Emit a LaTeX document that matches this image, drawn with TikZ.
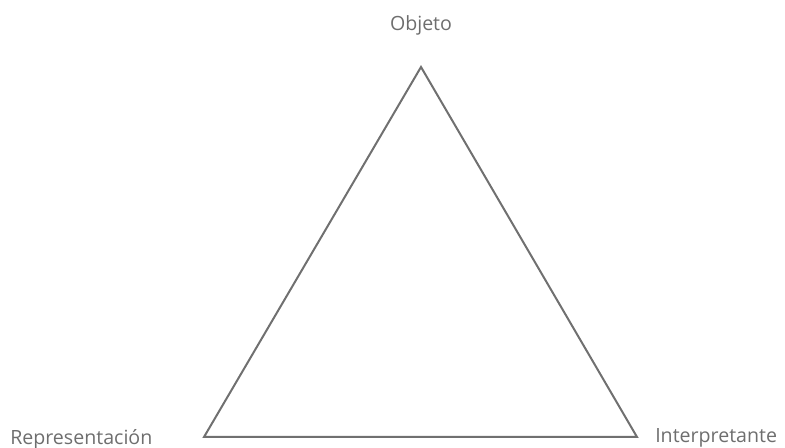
\documentclass[tikz,border=0pt]{standalone}
\usepackage{fontspec}
\setmainfont{Open Sans}
\definecolor{edgegray}{RGB}{112,112,112}
\definecolor{labelgray}{RGB}{110,110,110}
\usetikzlibrary{positioning}

\begin{document}
\begin{tikzpicture}[x=0.75pt, y=-0.75pt,
      side/.style={draw=edgegray, line width=1.5pt, line join=miter},
      vlabel/.style={text=labelgray, inner sep=0pt,
                     font=\fontsize{14.7}{17}\selectfont}
    ]
    \useasboundingbox (0,0) rectangle (785,448);
    % vertices of the triangle
    \coordinate (apex) at (421,67);
    \coordinate (left) at (204,437);
    \coordinate (right) at (637,437);
    \draw[side] (apex) -- (left) -- (right) -- cycle;
    % labels
    \node[vlabel, anchor=base] (objeto) at (421,31) {Objeto};
    \node[vlabel, anchor=base west] (repr) at (10,445) {Representación};
    \node[vlabel, anchor=base west] (interp) at (655,443) {Interpretante};
  \end{tikzpicture}
\end{document}
